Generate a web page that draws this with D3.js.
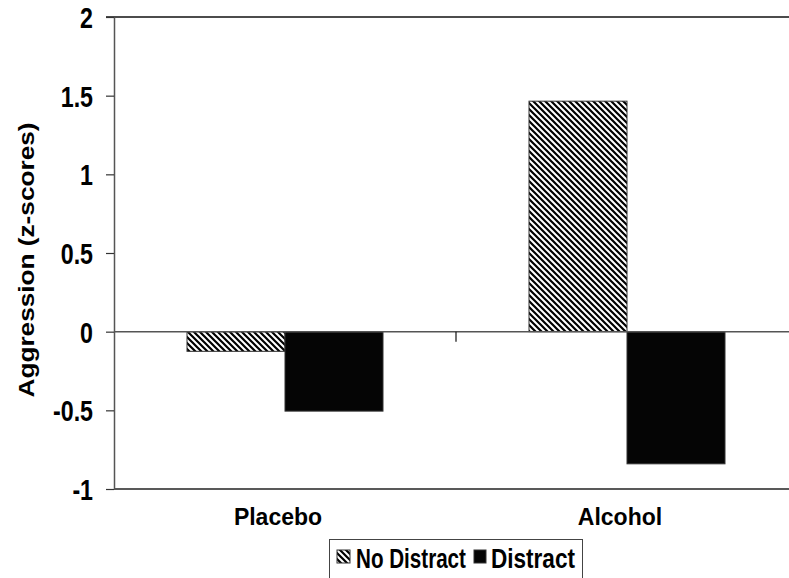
<!DOCTYPE html>
<html>
<head>
<meta charset="utf-8">
<script src="https://cdn.jsdelivr.net/npm/d3@7"></script>
<style>
  html, body { margin: 0; padding: 0; background: #fff; }
  svg { display: block; }
  text { font-family: "Liberation Sans", Arial, sans-serif; font-weight: bold; fill: #000; }
</style>
</head>
<body>
<svg id="chart" width="789" height="578"></svg>
<script>
// ---- data ----
const categories = ["Placebo", "Alcohol"];
const seriesNames = ["No Distract", "Distract"];
const noDistract = [-0.125, 1.465];
const distract = [-0.505, -0.84];
const yTicks = [-1, -0.5, 0, 0.5, 1, 1.5, 2];
const yTickLabels = ["-1", "-0.5", "0", "0.5", "1", "1.5", "2"];
const yTitle = "Aggression (z-scores)";

const seriesValues = [noDistract, distract];

(function () {
const svg = d3.select("#chart");
const W = 789, H = 578;
const mLeft = 114, mRight = 798, mTop = 17, mBottom = 489;

// pattern
const defs = svg.append("defs");
const pat = defs.append("pattern")
  .attr("id", "hatch").attr("patternUnits", "userSpaceOnUse")
  .attr("width", 6).attr("height", 6);
pat.append("rect").attr("width", 6).attr("height", 6).attr("fill", "#fff");
pat.append("path")
  .attr("d", "M0,0 L6,6 M-3,3 L3,9 M3,-3 L9,3")
  .attr("stroke", "#000").attr("stroke-width", 2.2);

const y = d3.scaleLinear().domain([-1, 2]).range([mBottom, mTop]);
const x0 = d3.scaleBand().domain(categories).range([mLeft, mRight])
  .paddingInner(146 / 342).paddingOuter(73 / 342);
const x1 = d3.scaleBand().domain(seriesNames).range([0, x0.bandwidth()]);

// top frame line
svg.append("line").attr("x1", mLeft - 8).attr("x2", W).attr("y1", y(2)).attr("y2", y(2))
  .attr("stroke", "#111").attr("stroke-width", 1.5);
// bottom line at -1
svg.append("line").attr("x1", mLeft).attr("x2", W).attr("y1", y(-1)).attr("y2", y(-1))
  .attr("stroke", "#222").attr("stroke-width", 1.5);

// bars
const data = [];
categories.forEach((c, i) => seriesNames.forEach((s, j) => data.push({ c, s, v: seriesValues[j][i] })));
svg.append("g").selectAll("rect").data(data).join("rect")
  .attr("x", d => x0(d.c) + x1(d.s))
  .attr("width", x1.bandwidth())
  .attr("y", d => y(Math.max(0, d.v)))
  .attr("height", d => Math.abs(y(d.v) - y(0)))
  .attr("fill", d => d.s === "No Distract" ? "url(#hatch)" : "#050505")
  .attr("stroke", "#333").attr("stroke-width", 1);

// zero line (x axis)
svg.append("line").attr("x1", mLeft).attr("x2", W).attr("y1", y(0)).attr("y2", y(0))
  .attr("stroke", "#555").attr("stroke-width", 1.5);
// category separator tick
const sep = x0.range()[0] + x0.step();
svg.append("line").attr("x1", sep).attr("x2", sep).attr("y1", y(0)).attr("y2", y(0) + 10)
  .attr("stroke", "#111").attr("stroke-width", 1.2);

// y axis
const yAxis = d3.axisLeft(y).tickValues(yTicks).tickSize(8).tickSizeOuter(0)
  .tickFormat((d, i) => yTickLabels[i]);
const ga = svg.append("g").attr("transform", `translate(${mLeft},0)`).call(yAxis);
ga.select(".domain").attr("stroke", "#555").attr("stroke-width", 1.5);
ga.selectAll(".tick line").attr("stroke", "#333").attr("stroke-width", 1.2);
ga.selectAll(".tick text")
  .attr("font-size", 29).attr("font-family", "'Liberation Sans', Arial, sans-serif")
  .attr("font-weight", "bold").attr("fill", "#000")
  .attr("x", -21 / 0.8).attr("dy", "0.36em")
  .attr("transform", "scale(0.8,1)");

// category labels
svg.append("g").selectAll("text").data(categories).join("text")
  .attr("x", d => x0(d) + x0.bandwidth() / 2 - 7)
  .attr("y", 525)
  .attr("text-anchor", "middle")
  .attr("font-size", 23)
  .text(d => d);

// y title
svg.append("text")
  .attr("transform", `translate(34,260) rotate(-90)`)
  .attr("text-anchor", "middle")
  .attr("font-size", 22)
  .attr("textLength", 275).attr("lengthAdjust", "spacingAndGlyphs")
  .text(yTitle);

// legend
const lg = svg.append("g");
lg.append("rect").attr("x", 329.5).attr("y", 539.5).attr("width", 253).attr("height", 50)
  .attr("fill", "#fff").attr("stroke", "#444").attr("stroke-width", 1);
const legendItems = [
  { name: seriesNames[0], fill: "url(#hatch)", sx: 337, sw: 13, tx: 356, tw: 110 },
  { name: seriesNames[1], fill: "#050505", sx: 474, sw: 12, tx: 491, tw: 84 }
];
legendItems.forEach(it => {
  lg.append("rect").attr("x", it.sx).attr("y", 550).attr("width", it.sw).attr("height", 13)
    .attr("fill", it.fill).attr("stroke", "#333").attr("stroke-width", 1);
  const t = lg.append("text").attr("x", 0).attr("y", 0).attr("font-size", 28)
    .text(it.name);
  const natural = t.node().getComputedTextLength();
  const k = it.tw / natural;
  t.attr("transform", `translate(${it.tx},568) scale(${k},1)`);
});
})();
</script>
</body>
</html>
